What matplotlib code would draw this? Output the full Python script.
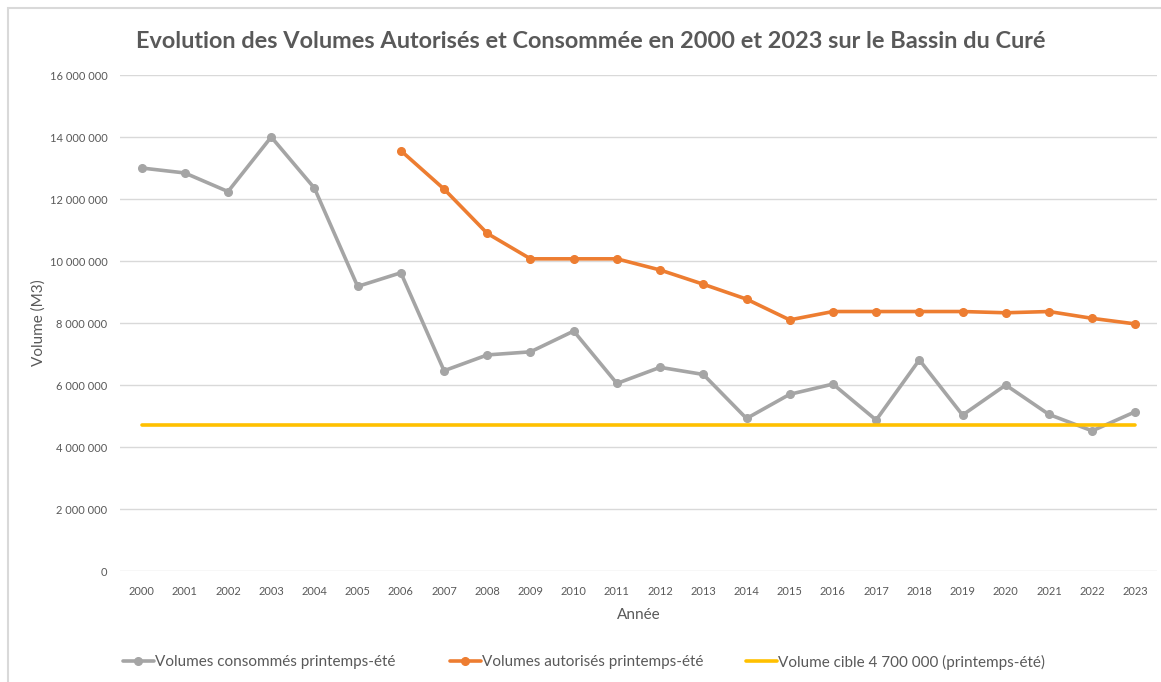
import matplotlib
matplotlib.use("Agg")
import matplotlib.pyplot as plt
from matplotlib.patches import Rectangle
from matplotlib.ticker import FuncFormatter, MultipleLocator

plt.rcParams['font.family'] = ['Lato', 'DejaVu Sans']

years = [str(y) for y in range(2000, 2024)]
consommes = [13.00, 12.84, 12.24, 14.00, 12.35, 9.18, 9.62, 6.46, 6.97, 7.07,
             7.74, 6.05, 6.57, 6.34, 4.92, 5.70, 6.03, 4.87, 6.81, 5.03,
             6.00, 5.05, 4.52, 5.14]
consommes = [v * 1e6 for v in consommes]
autorises_years = years[6:]
autorises = [13.56, 12.32, 10.89, 10.07, 10.07, 10.07, 9.71, 9.25, 8.77, 8.10,
             8.37, 8.37, 8.37, 8.37, 8.33, 8.37, 8.15, 7.97]
autorises = [v * 1e6 for v in autorises]
cible = [4.7e6] * len(years)

title = "Evolution des Volumes Autorisés et Consommée en 2000 et 2023 sur le Bassin du Curé"
labels = ["Volumes consommés printemps-été", "Volumes autorisés printemps-été",
          "Volume cible 4 700 000 (printemps-été)"]

GREY = "#A5A5A5"
ORANGE = "#ED7D31"
YELLOW = "#FFC000"
TXT = "#595959"
GRID = "#D9D9D9"

W, H = 1161, 682
fig = plt.figure(figsize=(W / 100, H / 100), dpi=100)
fig.patch.set_facecolor("white")
fig.patches.append(Rectangle((8 / W, -0.1), 1.2, 1 - 8 / H + 0.1, transform=fig.transFigure,
                             fill=False, edgecolor=GRID, lw=1.5))

ax = fig.add_axes([120 / W, 1 - 571 / H, (1157 - 120) / W, (571 - 75) / H])
x = list(range(len(years)))
xa = [years.index(y) for y in autorises_years]

l1, = ax.plot(x, consommes, color=GREY, lw=2.6, marker="o", ms=5.5, solid_capstyle="round")
l2, = ax.plot(xa, autorises, color=ORANGE, lw=2.6, marker="o", ms=5.5, solid_capstyle="round")
l3, = ax.plot(x, cible, color=YELLOW, lw=2.6, solid_capstyle="round")

ax.set_xlim(-0.5, len(years) - 0.5)
ax.set_ylim(0, 16e6)
ax.yaxis.set_major_locator(MultipleLocator(2e6))
ax.yaxis.set_major_formatter(FuncFormatter(lambda v, p: f"{int(v):,}".replace(",", " ")))
ax.set_xticks(x)
ax.set_xticklabels(years)
ax.grid(axis="y", color=GRID, lw=1)
ax.set_axisbelow(True)
for s in ax.spines.values():
    s.set_visible(False)
ax.tick_params(axis="both", length=0, colors=TXT, labelsize=8)
ax.tick_params(axis="y", pad=9)
ax.tick_params(axis="x", pad=11)
ax.set_xlabel("Année", color=TXT, fontsize=11, labelpad=8)
ax.set_ylabel("Volume (M3)", color=TXT, fontsize=11, labelpad=3)

fig.text(591 / W, 1 - 41 / H, title, ha="center", va="center", color=TXT,
         fontsize=16.9, fontweight="bold")

anchors = [123, 450, 746]
for h, lab, a in zip([l1, l2, l3], labels, anchors):
    fig.legend([h], [lab], loc="center left", bbox_to_anchor=(a / W, 1 - 662 / H),
               frameon=False, fontsize=11, labelcolor=TXT, handlelength=2.0,
               handletextpad=0.08, borderpad=0, borderaxespad=0)

fig.savefig("out.png", dpi=100)
